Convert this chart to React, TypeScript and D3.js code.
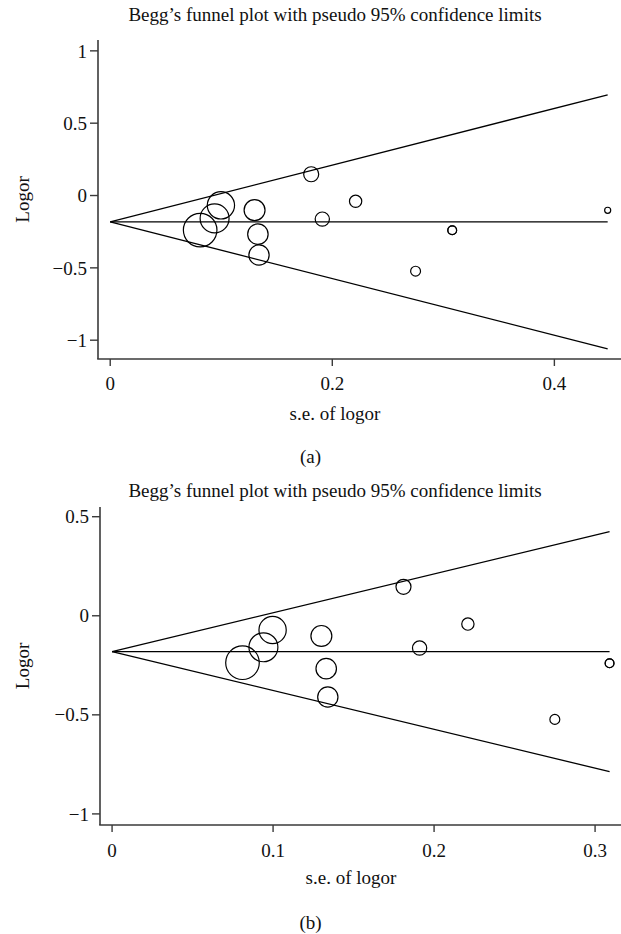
import React from "react";
import * as d3 from "d3";

// ---- data ----
const seTop = [0.081, 0.094, 0.0997, 0.130, 0.133, 0.134, 0.181, 0.191, 0.221, 0.275, 0.308, 0.308, 0.448];
const logorTop = [-0.239, -0.158, -0.068, -0.101, -0.267, -0.411, 0.147, -0.163, -0.040, -0.523, -0.240, -0.240, -0.102];
const seBottom = [0.081, 0.094, 0.0997, 0.130, 0.133, 0.134, 0.181, 0.191, 0.221, 0.275, 0.309, 0.309];
const logorBottom = [-0.237, -0.159, -0.072, -0.102, -0.267, -0.410, 0.146, -0.163, -0.042, -0.523, -0.240, -0.240];
const pooledTop = -0.182;
const pooledBottom = -0.181;
const yTicksTop = [-1, -0.5, 0, 0.5, 1];
const yTicksBottom = [-1, -0.5, 0, 0.5];
const xTicksTop = [0, 0.2, 0.4];
const xTicksBottom = [0, 0.1, 0.2, 0.3];
const titleText = "Begg\u2019s funnel plot with pseudo 95% confidence limits";
const xLabel = "s.e. of logor";
const yLabel = "Logor";
const panelLabels = ["(a)", "(b)"];

const FONT = "'Liberation Serif', 'DejaVu Serif', serif";
const FS = 19;
const AXIS = "#3a3a3a";

const fmt = (v: number) => (v < 0 ? "\u2212" + String(Math.abs(v)) : String(v));

type PanelProps = {
  se: number[];
  logor: number[];
  pooled: number;
  xDomain: [number, number];
  yDomain: [number, number];
  left: number;
  right: number;
  top: number;
  bottom: number;
  xTicks: number[];
  yTicks: number[];
  titleY: number;
  titleX: number;
  xLabelX: number;
  xLabelY: number;
  tickLabelY: number;
  panelLabel: string;
  panelLabelY: number;
};

function Panel(p: PanelProps) {
  const x = d3.scaleLinear().domain(p.xDomain).range([p.left, p.right]);
  const y = d3.scaleLinear().domain(p.yDomain).range([p.bottom, p.top]);
  const r = d3.scaleLinear().domain([0, 1]).range([0, 1.36]);
  const maxSe = d3.max(p.se) as number;
  const line = d3.line<[number, number]>().x((d) => x(d[0])).y((d) => y(d[1]));
  const upper = line([[0, p.pooled], [maxSe, p.pooled + 1.96 * maxSe]]) as string;
  const lower = line([[0, p.pooled], [maxSe, p.pooled - 1.96 * maxSe]]) as string;
  const mid = line([[0, p.pooled], [maxSe, p.pooled]]) as string;
  const yMid = (p.top + p.bottom) / 2;
  return (
    <g>
      <text x={p.titleX} y={p.titleY} textAnchor="middle" fontFamily={FONT} fontSize={FS} fill="#111">
        {titleText}
      </text>
      {/* axes */}
      <line x1={p.left} x2={p.left} y1={p.top} y2={p.bottom} stroke={AXIS} strokeWidth={1.6} />
      <line x1={p.left - 0.8} x2={p.right} y1={p.bottom} y2={p.bottom} stroke={AXIS} strokeWidth={1.6} />
      {p.yTicks.map((t) => (
        <g key={"y" + t}>
          <line x1={p.left - 8} x2={p.left} y1={y(t)} y2={y(t)} stroke={AXIS} strokeWidth={1.4} />
          <text x={p.left - 11} y={y(t)} dy="0.35em" textAnchor="end" fontFamily={FONT} fontSize={FS} fill="#111">
            {fmt(t)}
          </text>
        </g>
      ))}
      {p.xTicks.map((t) => (
        <g key={"x" + t}>
          <line x1={x(t)} x2={x(t)} y1={p.bottom} y2={p.bottom + 7} stroke={AXIS} strokeWidth={1.4} />
          <text x={x(t)} y={p.tickLabelY} textAnchor="middle" fontFamily={FONT} fontSize={FS} fill="#111">
            {fmt(t)}
          </text>
        </g>
      ))}
      <text
        transform={`translate(${29},${yMid}) rotate(-90)`}
        textAnchor="middle"
        fontFamily={FONT}
        fontSize={FS}
        fill="#111"
      >
        {yLabel}
      </text>
      <text x={p.xLabelX} y={p.xLabelY} textAnchor="middle" fontFamily={FONT} fontSize={FS} fill="#111">
        {xLabel}
      </text>
      <text x={310.5} y={p.panelLabelY} textAnchor="middle" fontFamily={FONT} fontSize={FS} fill="#111">
        {p.panelLabel}
      </text>
      {/* funnel lines */}
      <path d={upper} fill="none" stroke="#000" strokeWidth={1.3} />
      <path d={lower} fill="none" stroke="#000" strokeWidth={1.3} />
      <path d={mid} fill="none" stroke="#000" strokeWidth={1.3} />
      {p.se.map((s, i) => (
        <circle key={i} cx={x(s)} cy={y(p.logor[i])} r={r(1 / s)} fill="none" stroke="#000" strokeWidth={1.2} />
      ))}
    </g>
  );
}

export default function App() {
  return (
    <svg
      width={621}
      height={934}
      viewBox="0 0 621 934"
      style={{ position: "absolute", left: 0, top: 0, display: "block", background: "#fff" }}
    >
      <rect x={0} y={0} width={621} height={934} fill="#fff" />
      <Panel
        se={seTop}
        logor={logorTop}
        pooled={pooledTop}
        xDomain={[-0.011, 0.46]}
        yDomain={[-1.13, 1.075]}
        left={98}
        right={621}
        top={40}
        bottom={359}
        xTicks={xTicksTop}
        yTicks={yTicksTop}
        titleX={335}
        titleY={21}
        xLabelX={335}
        xLabelY={420}
        tickLabelY={390}
        panelLabel={panelLabels[0]}
        panelLabelY={463}
      />
      <Panel
        se={seBottom}
        logor={logorBottom}
        pooled={pooledBottom}
        xDomain={[-0.0075, 0.3161]}
        yDomain={[-1.056, 0.549]}
        left={100}
        right={621}
        top={507}
        bottom={825}
        xTicks={xTicksBottom}
        yTicks={yTicksBottom}
        titleX={335}
        titleY={497}
        xLabelX={351}
        xLabelY={884}
        tickLabelY={857}
        panelLabel={panelLabels[1]}
        panelLabelY={929}
      />
    </svg>
  );
}
